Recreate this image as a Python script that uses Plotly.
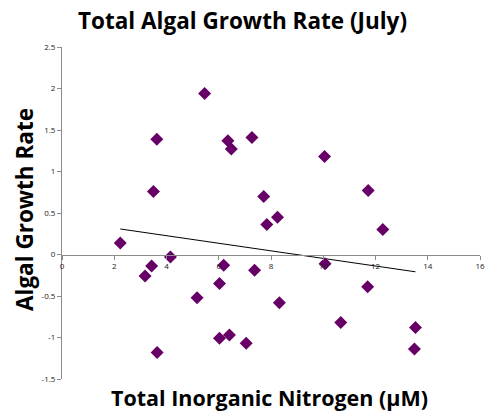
import numpy as np
import plotly.graph_objects as go

# Data
nitrogen = [2.23, 3.18, 3.43, 4.15, 3.64, 5.17, 6.03, 6.19, 6.03, 6.41,
            7.05, 7.37, 5.46, 3.63, 6.35, 6.48, 7.27, 3.50, 7.72, 8.25,
            7.84, 10.05, 11.72, 12.28, 10.07, 11.70, 8.32, 10.67, 13.53, 13.49]
growth = [0.14, -0.26, -0.14, -0.03, -1.18, -0.52, -0.35, -0.13, -1.01, -0.97,
          -1.07, -0.19, 1.94, 1.39, 1.37, 1.27, 1.41, 0.76, 0.70, 0.45,
          0.36, 1.18, 0.77, 0.30, -0.11, -0.39, -0.58, -0.82, -0.88, -1.14]
x_ticks = [0, 2, 4, 6, 8, 10, 12, 14, 16]
y_ticks = [-1.5, -1, -0.5, 0, 0.5, 1, 1.5, 2, 2.5]
y_tick_text = ["-1.5", "-1", "-0.5", "0", "0.5", "1", "1.5", "2", "2.5"]

# Linear trendline (least squares), drawn from min to max x
slope, intercept = np.polyfit(nitrogen, growth, 1)
tx = [min(nitrogen), max(nitrogen)]
ty = [slope * v + intercept for v in tx]

fig = go.Figure()
fig.add_trace(go.Scatter(
    x=tx, y=ty, mode="lines",
    line=dict(color="black", width=1), hoverinfo="skip", showlegend=False))
fig.add_trace(go.Scatter(
    x=nitrogen, y=growth, mode="markers",
    marker=dict(symbol="diamond", size=10, color="#660066",
                line=dict(width=0)),
    showlegend=False))

ymin, ymax = -1.5, 2.5
fig.update_layout(
    width=492, height=414,
    margin=dict(l=62, r=7, t=47, b=35),
    paper_bgcolor="white", plot_bgcolor="white",
    font=dict(family="Open Sans", color="#222222"),
    xaxis=dict(range=[0, 16], tickvals=x_ticks, showgrid=False, zeroline=False,
               showline=True, linecolor="#8c8c8c", linewidth=1,
               ticks="outside", ticklen=4, tickcolor="#8c8c8c",
               anchor="free", position=(0 - ymin) / (ymax - ymin),
               tickfont=dict(size=8, color="#222222", family="Open Sans")),
    yaxis=dict(range=[ymin, ymax], tickvals=y_ticks, ticktext=y_tick_text,
               showgrid=False, zeroline=False,
               showline=True, linecolor="#8c8c8c", linewidth=1,
               ticks="outside", ticklen=4, tickcolor="#8c8c8c",
               tickfont=dict(size=8, color="#222222", family="Open Sans")),
    annotations=[
        dict(text="<b>Total Algal Growth Rate (July)</b>", xref="paper", yref="paper",
             x=(245 - 62) / 423, y=1, yshift=27, xanchor="center", yanchor="middle",
             showarrow=False, font=dict(size=22.5, family="Open Sans", color="black")),
        dict(text="<b>Total Inorganic Nitrogen (µM)</b>", xref="paper", yref="paper",
             x=(272 - 62) / 423, y=0, yshift=-18, xanchor="center", yanchor="middle",
             showarrow=False, font=dict(size=21.5, family="Open Sans", color="black")),
        dict(text="<b>Algal Growth Rate</b>", xref="paper", yref="paper",
             x=0, xshift=-38, y=(379 - 210) / 332, xanchor="center", yanchor="middle",
             textangle=-90,
             showarrow=False, font=dict(size=22.5, family="Open Sans", color="black")),
    ],
)

fig.write_html("out.html")
